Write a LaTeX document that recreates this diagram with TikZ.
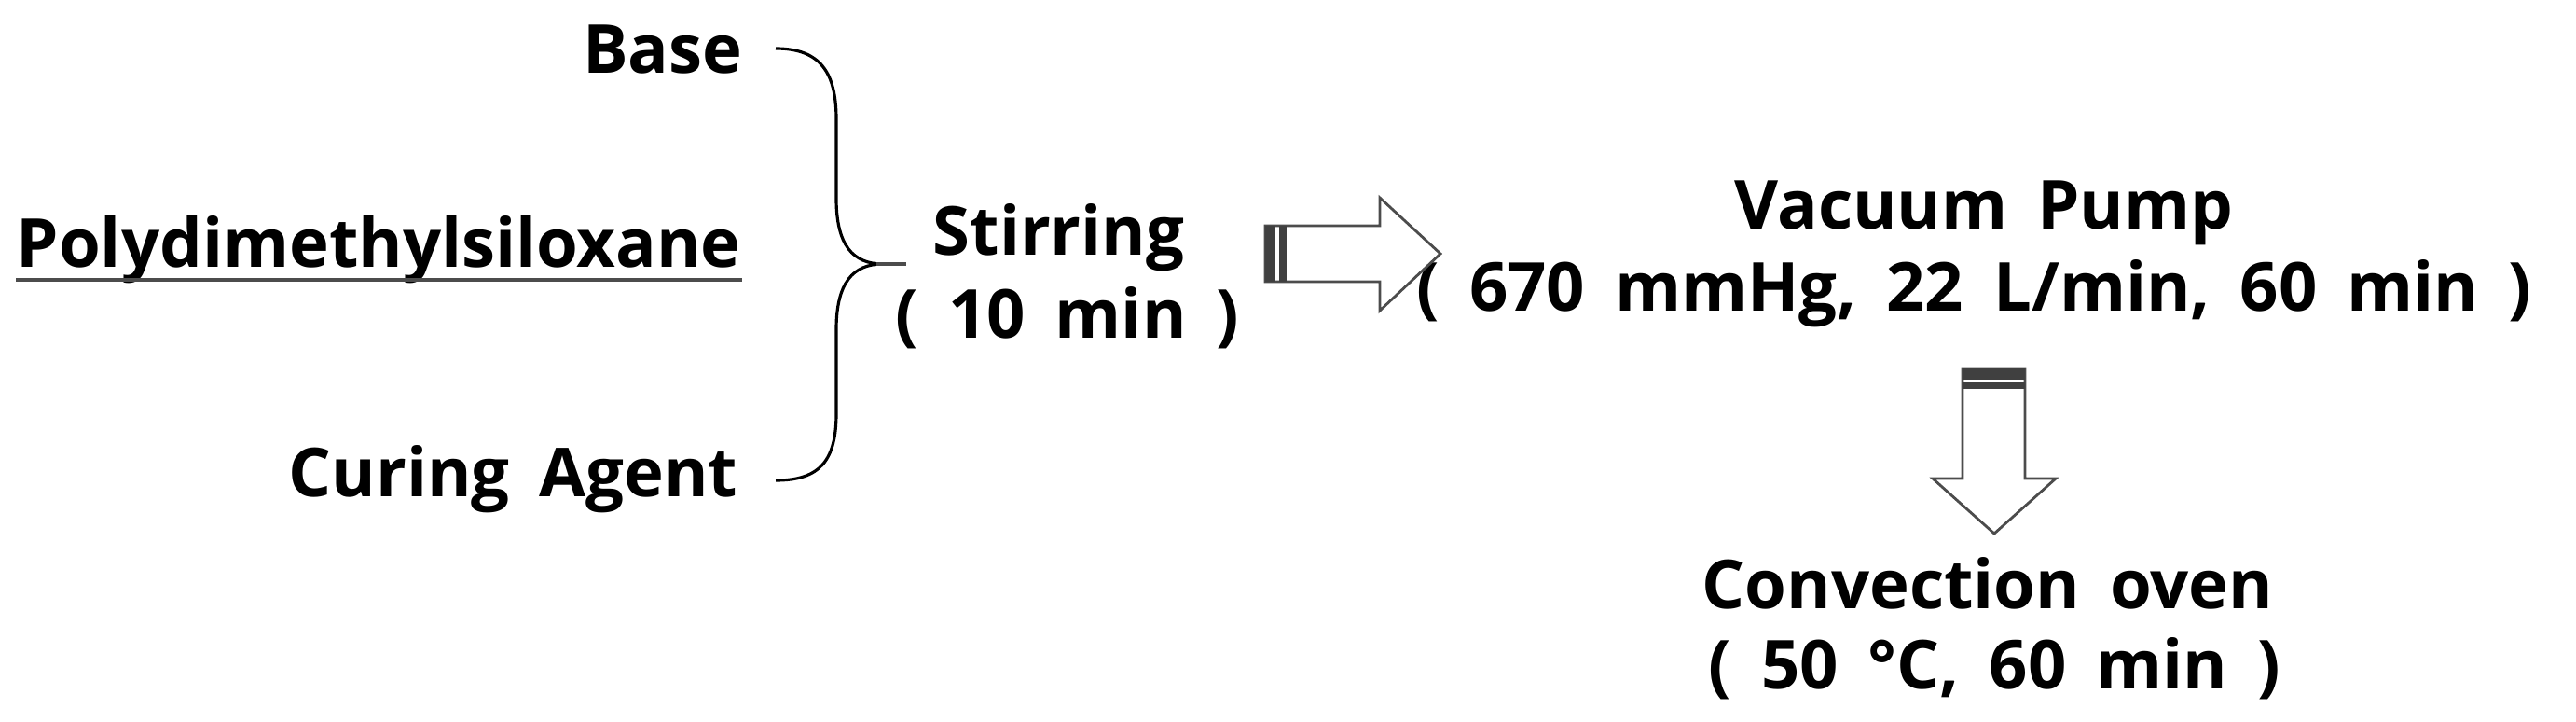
\documentclass[tikz,border=0pt]{standalone}
\usepackage{fontspec}
\setmainfont{Open Sans}[WordSpace=1.7]

\begin{document}
\begin{tikzpicture}[
    label/.style={font=\fontsize{20.6}{25}\selectfont\bfseries, inner sep=0pt},
    blockarrow/.style={draw=black!70, line width=0.8pt, fill=white, line join=miter},
    stripe/.style={fill=black!75}
]

    \useasboundingbox (0, 0) rectangle (27.63, 7.73);

    \node[label, anchor=base east] (base) at (7.97, 6.94) {Base};
    \node[label, anchor=base west] (pdms) at (0.17, 4.86) {Polydimethylsiloxane};
    \node[label, anchor=base east] (agent) at (7.92, 2.41) {Curing Agent};

    \draw[line width=1.1pt, color=black!70] ([yshift=-0.13cm]pdms.base west) -- ([yshift=-0.13cm]pdms.base east);

    \node[label, anchor=base west] (stir) at (10.00, 5.00) {Stirring};
    \node[label, anchor=base west] (stirtime) at (9.60, 4.11) {( 10 min )};

    \node[label, anchor=base west] (pump) at (18.60, 5.28) {Vacuum Pump};
    \node[label, anchor=base west] (pumpset) at (15.19, 4.40) {( 670 mmHg, 22 L/min, 60 min )};

    \node[label, anchor=base west] (oven) at (18.25, 1.21) {Convection oven};
    \node[label, anchor=base west] (ovenset) at (18.32, 0.35) {( 50 °C, 60 min )};

    % brace
    \draw[line width=0.9pt] (8.32, 7.21) .. controls (8.80, 7.21) and (8.97, 6.95) .. (8.97, 6.45)
        -- (8.97, 5.60) .. controls (8.97, 5.10) and (9.15, 4.90) .. (9.47, 4.90)
        .. controls (9.15, 4.90) and (8.97, 4.70) .. (8.97, 4.20)
        -- (8.97, 3.30) .. controls (8.97, 2.80) and (8.80, 2.58) .. (8.32, 2.58);
    \draw[line width=1.2pt, color=black!70] (9.40, 4.90) -- (9.72, 4.90);

    % arrow to the pump
    \draw[blockarrow] (13.57, 5.31) -- (14.80, 5.31) -- (14.80, 5.61) -- (15.45, 5.01)
        -- (14.80, 4.40) -- (14.80, 4.71) -- (13.57, 4.71) -- cycle;
    \fill[stripe] (13.57, 4.71) rectangle (13.68, 5.31);
    \fill[stripe] (13.72, 4.71) rectangle (13.80, 5.31);

    % arrow to the oven
    \draw[blockarrow] (21.05, 3.78) -- (21.05, 2.60) -- (20.73, 2.60) -- (21.39, 2.01)
        -- (22.05, 2.60) -- (21.72, 2.60) -- (21.72, 3.78) -- cycle;
    \fill[stripe] (21.05, 3.78) rectangle (21.72, 3.66);
    \fill[stripe] (21.05, 3.63) rectangle (21.72, 3.56);

\end{tikzpicture}
\end{document}
